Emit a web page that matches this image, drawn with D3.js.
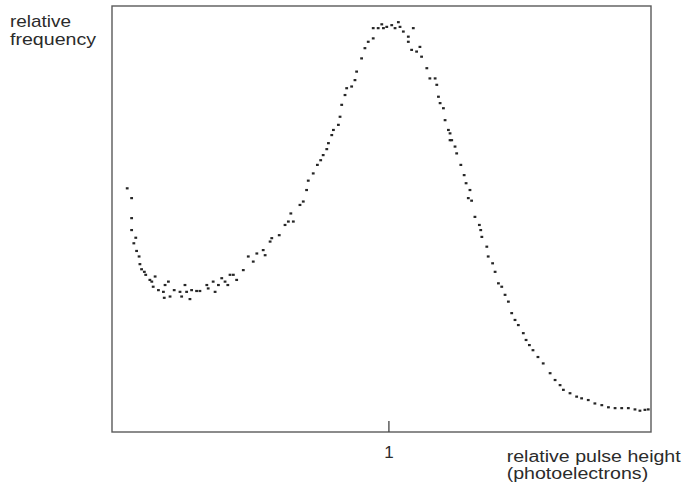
<!DOCTYPE html>
<html>
<head>
<meta charset="utf-8">
<script src="https://cdn.jsdelivr.net/npm/d3@7/dist/d3.min.js"></script>
<style>
  html, body { margin: 0; padding: 0; background: #ffffff; }
  svg { display: block; }
  text { font-family: "Liberation Sans", Arial, sans-serif; fill: #2b2b2b; }
</style>
</head>
<body>
<svg id="chart" width="687" height="487"></svg>
<script>
// Pulse-height spectrum: relative pulse height (photoelectrons) vs relative frequency
const pulseHeight = [
  0.055, 0.071, 0.071, 0.071, 0.079, 0.086, 0.089, 0.098, 0.101, 0.107,
  0.117, 0.122, 0.137, 0.144, 0.156, 0.149, 0.168, 0.186, 0.192, 0.204,
  0.189, 0.210, 0.225, 0.246, 0.252, 0.264, 0.270, 0.282, 0.288, 0.306,
  0.318, 0.343, 0.348, 0.366, 0.373, 0.385, 0.397, 0.409, 0.419, 0.427,
  0.439, 0.451, 0.475, 0.493, 0.511, 0.524, 0.547, 0.554, 0.572, 0.578,
  0.605, 0.626, 0.638, 0.647, 0.656, 0.680, 0.692, 0.704, 0.710, 0.728,
  0.743, 0.755, 0.764, 0.777, 0.783, 0.795, 0.801, 0.819, 0.825, 0.831,
  0.843, 0.849, 0.867, 0.879, 0.885, 0.903, 0.915, 0.927, 0.945, 0.945,
  0.963, 0.982, 0.976, 0.994, 1.012, 1.024, 1.036, 1.042, 1.054, 1.072,
  1.072, 1.090, 1.084, 1.102, 1.114, 1.120, 1.139, 1.150, 1.169, 1.175,
  1.181, 1.187, 1.199, 1.205, 1.217, 1.223, 1.223, 1.229, 1.241, 1.247,
  1.262, 1.274, 1.281, 1.295, 1.289, 1.301, 1.313, 1.329, 1.334, 1.338,
  1.356, 1.361, 1.377, 1.386, 1.398, 1.410, 1.422, 1.434, 1.446, 1.458,
  1.470, 1.488, 1.498, 1.510, 1.523, 1.541, 1.560, 1.585, 1.603, 1.621,
  1.633, 1.657, 1.681, 1.699, 1.723, 1.747, 1.772, 1.796, 1.820, 1.844,
  1.868, 1.892, 1.910, 1.928, 1.940
];
const frequency = [
  0.572, 0.549, 0.502, 0.474, 0.443, 0.456, 0.425, 0.412, 0.394, 0.382,
  0.376, 0.369, 0.357, 0.353, 0.365, 0.341, 0.333, 0.329, 0.345, 0.353,
  0.315, 0.318, 0.333, 0.329, 0.318, 0.345, 0.329, 0.312, 0.333, 0.331,
  0.331, 0.345, 0.337, 0.353, 0.329, 0.345, 0.361, 0.353, 0.345, 0.369,
  0.369, 0.357, 0.380, 0.412, 0.400, 0.419, 0.427, 0.415, 0.447, 0.455,
  0.462, 0.486, 0.494, 0.513, 0.494, 0.533, 0.541, 0.568, 0.590, 0.607,
  0.627, 0.638, 0.650, 0.664, 0.678, 0.697, 0.709, 0.721, 0.740, 0.768,
  0.791, 0.807, 0.811, 0.826, 0.846, 0.877, 0.901, 0.916, 0.924, 0.948,
  0.948, 0.948, 0.957, 0.951, 0.955, 0.948, 0.962, 0.951, 0.940, 0.928,
  0.916, 0.948, 0.897, 0.893, 0.904, 0.881, 0.854, 0.830, 0.830, 0.815,
  0.787, 0.772, 0.760, 0.732, 0.709, 0.701, 0.685, 0.685, 0.670, 0.654,
  0.627, 0.603, 0.584, 0.568, 0.549, 0.543, 0.505, 0.486, 0.474, 0.458,
  0.435, 0.412, 0.396, 0.376, 0.349, 0.341, 0.322, 0.306, 0.279, 0.263,
  0.251, 0.232, 0.216, 0.204, 0.192, 0.176, 0.161, 0.138, 0.122, 0.110,
  0.099, 0.091, 0.083, 0.079, 0.075, 0.067, 0.063, 0.058, 0.056, 0.056,
  0.056, 0.053, 0.050, 0.052, 0.053
];
const xTicks = [1];
const xTickLabels = ["1"];
const yLabelLines = ["relative", "frequency"];
const xLabelLines = ["relative pulse height", "(photoelectrons)"];

const points = pulseHeight.map((v, i) => ({ x: v, y: frequency[i] }));

const svg = d3.select("#chart");
const plotLeft = 112, plotRight = 651, plotTop = 6, plotBottom = 432;

const x = d3.scaleLinear().domain([0, 1.95]).range([plotLeft, plotRight]);
const y = d3.scaleLinear().domain([0, 1]).range([plotBottom, plotTop]);

// Frame around the plot area
svg.append("rect")
  .attr("x", plotLeft).attr("y", plotTop)
  .attr("width", plotRight - plotLeft).attr("height", plotBottom - plotTop)
  .attr("fill", "none")
  .attr("stroke", "#5a5a5a")
  .attr("stroke-width", 1.4);

// Bottom axis: a single inward tick at 1
const xAxis = d3.axisBottom(x)
  .tickValues(xTicks)
  .tickFormat((d, i) => xTickLabels[i])
  .tickSize(-11)
  .tickPadding(13.5);

const gx = svg.append("g")
  .attr("transform", `translate(0,${plotBottom})`)
  .call(xAxis);
gx.select(".domain").remove();
gx.selectAll(".tick line").attr("stroke", "#444").attr("stroke-width", 1.3);
gx.selectAll(".tick text")
  .style("font-family", '"Liberation Sans", Arial, sans-serif')
  .style("font-size", "17px")
  .attr("fill", "#2b2b2b");

// Measured points, drawn as small dark specks
svg.append("g")
  .selectAll("rect")
  .data(points)
  .join("rect")
  .attr("x", d => x(d.x) - 1.4)
  .attr("y", d => y(d.y) - 1.1)
  .attr("width", 2.8)
  .attr("height", 2.2)
  .attr("fill", "#262626");

// Axis titles
const yTitleWidths = [61, 86];
svg.append("g").selectAll("text")
  .data(yLabelLines)
  .join("text")
  .attr("x", 10)
  .attr("y", (d, i) => 26.7 + i * 18.3)
  .attr("textLength", (d, i) => yTitleWidths[i])
  .attr("lengthAdjust", "spacingAndGlyphs")
  .style("font-size", "17px")
  .text(d => d);

const xTitleWidths = [174, 141.5];
svg.append("g").selectAll("text")
  .data(xLabelLines)
  .join("text")
  .attr("x", 506.7)
  .attr("y", (d, i) => 462 + i * 17)
  .attr("textLength", (d, i) => xTitleWidths[i])
  .attr("lengthAdjust", "spacingAndGlyphs")
  .style("font-size", "16px")
  .text(d => d);
</script>
</body>
</html>
